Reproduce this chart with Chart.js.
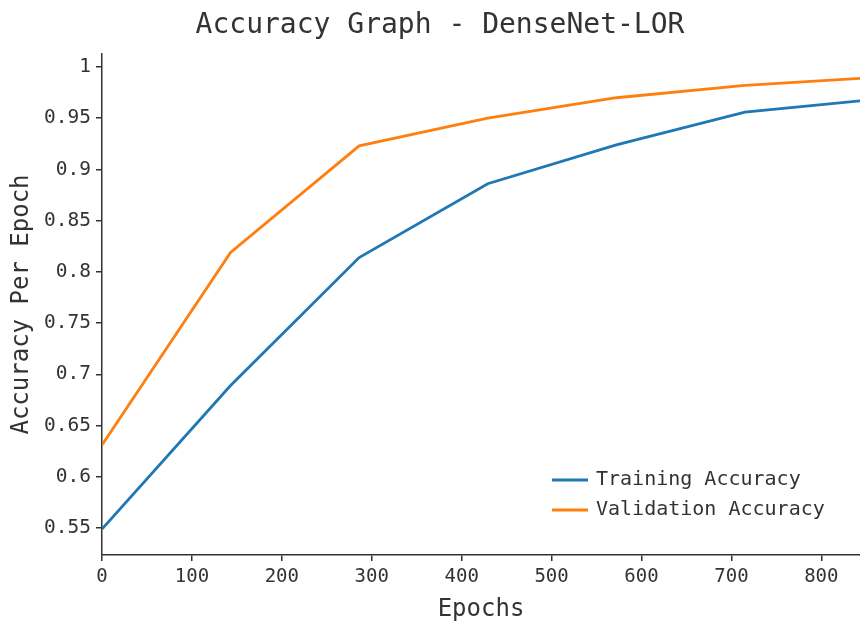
<!DOCTYPE html>
<html>
<head>
<meta charset="utf-8">
<script src="https://cdn.jsdelivr.net/npm/chart.js@4/dist/chart.umd.min.js"></script>
<style>
  html, body { margin: 0; padding: 0; background: #fff; }
  #wrap { width: 860px; height: 624px; }
</style>
</head>
<body>
<div id="wrap"><canvas id="acc"></canvas></div>
<script>
/* Epochs and accuracy per epoch */
var epochs = [0, 143, 286, 429, 572, 715, 843];
var trainAcc = [0.549, 0.689, 0.814, 0.886, 0.924, 0.956, 0.967];
var valAcc = [0.631, 0.819, 0.923, 0.950, 0.970, 0.982, 0.989];
var seriesNames = ['Training Accuracy', 'Validation Accuracy'];
var chartTitle = 'Accuracy Graph - DenseNet-LOR';

var MONO = "'DejaVu Sans Mono', monospace";
var INK = '#333333';

function points(ys) {
  return epochs.map(function(x, i) { return { x: x, y: ys[i] }; });
}

/* Title (slightly right of canvas centre) and legend inside the plot, lower right */
var extras = {
  id: 'extras',
  afterDraw: function(chart) {
    var ctx = chart.ctx;
    ctx.save();
    ctx.fillStyle = INK;
    ctx.textAlign = 'center';
    ctx.textBaseline = 'middle';
    ctx.font = '28px ' + MONO;
    ctx.fillText(chartTitle, 440, 26);

    ctx.font = '20px ' + MONO;
    ctx.textAlign = 'left';
    chart.data.datasets.forEach(function(ds, i) {
      var y = 480 + i * 30;
      ctx.strokeStyle = ds.borderColor;
      ctx.lineWidth = 3;
      ctx.beginPath();
      ctx.moveTo(552, y);
      ctx.lineTo(588, y);
      ctx.stroke();
      ctx.fillStyle = INK;
      ctx.fillText(ds.label, 596, y);
    });
    ctx.restore();
  }
};

new Chart(document.getElementById('acc').getContext('2d'), {
  type: 'line',
  data: {
    datasets: [
      {
        label: seriesNames[0],
        data: points(trainAcc),
        borderColor: '#1f77b4',
        backgroundColor: '#1f77b4',
        borderWidth: 2.8,
        pointRadius: 0,
        tension: 0
      },
      {
        label: seriesNames[1],
        data: points(valAcc),
        borderColor: '#ff7f0e',
        backgroundColor: '#ff7f0e',
        borderWidth: 2.8,
        pointRadius: 0,
        tension: 0
      }
    ]
  },
  options: {
    responsive: true,
    maintainAspectRatio: false,
    animation: false,
    layout: { padding: { top: 54, left: 0, right: 0, bottom: 0 } },
    scales: {
      x: {
        type: 'linear',
        min: 0,
        max: 843,
        afterFit: function(s) { s.height = 69; },
        border: { display: true, color: INK, width: 1.5 },
        grid: { display: true, drawOnChartArea: false, drawTicks: true, tickLength: 6, color: INK, lineWidth: 1.5 },
        ticks: {
          stepSize: 100,
          includeBounds: false,
          maxRotation: 0,
          padding: 5,
          color: INK,
          font: { family: MONO, size: 19 }
        },
        title: {
          display: true,
          text: 'Epochs',
          color: INK,
          padding: { top: 0, bottom: 0 },
          font: { family: MONO, size: 24 }
        }
      },
      y: {
        min: 0.5236,
        max: 1.0127,
        afterFit: function(s) { s.width = 102; },
        border: { display: true, color: INK, width: 1.5 },
        grid: { display: true, drawOnChartArea: false, drawTicks: true, tickLength: 6, color: INK, lineWidth: 1.5 },
        ticks: {
          stepSize: 0.05,
          includeBounds: false,
          padding: 5,
          color: INK,
          font: { family: MONO, size: 19.5 },
          callback: function(v) { return String(+v.toFixed(2)); }
        },
        title: {
          display: true,
          text: 'Accuracy Per Epoch',
          color: INK,
          padding: { top: 7, bottom: 0 },
          font: { family: MONO, size: 24 }
        }
      }
    },
    plugins: {
      legend: { display: false },
      tooltip: { enabled: false },
      title: { display: false }
    }
  },
  plugins: [extras]
});
</script>
</body>
</html>
